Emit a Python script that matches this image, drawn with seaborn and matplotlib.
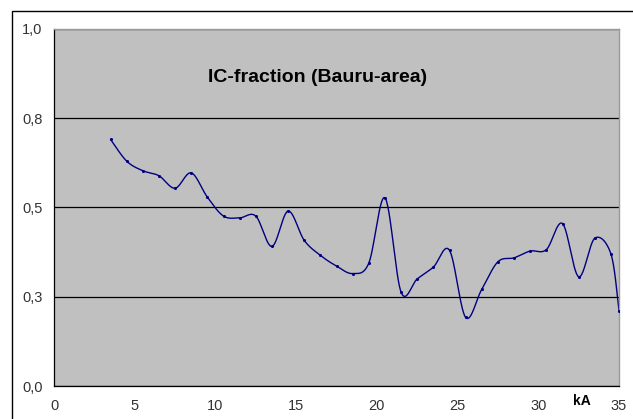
import numpy as np
import seaborn as sns
import matplotlib.pyplot as plt
from matplotlib.patches import Rectangle

# 数据：kA 与 IC-fraction
ka = [3.5, 4.5, 5.5, 6.5, 7.5, 8.5, 9.5, 10.5, 11.5, 12.5, 13.5, 14.5, 15.5,
      16.5, 17.5, 18.5, 19.5, 20.5, 21.5, 22.5, 23.5, 24.5, 25.5, 26.5, 27.5,
      28.5, 29.5, 30.5, 31.5, 32.5, 33.5, 34.5, 35.0]
ic_fraction = [0.691, 0.630, 0.603, 0.589, 0.554, 0.597, 0.529, 0.476, 0.471,
               0.476, 0.391, 0.490, 0.408, 0.366, 0.336, 0.315, 0.344, 0.527,
               0.263, 0.300, 0.333, 0.380, 0.192, 0.271, 0.348, 0.359, 0.378,
               0.382, 0.455, 0.306, 0.414, 0.370, 0.211]

x_ticks = [0, 5, 10, 15, 20, 25, 30, 35]
y_ticks = [0.0, 0.25, 0.5, 0.75, 1.0]
y_tick_labels = ['0,0', '0,3', '0,5', '0,8', '1,0']
title = 'IC-fraction (Bauru-area)'
x_label = 'kA'


# Excel 风格的平滑线（Bezier，张力 1/6）
def smooth_line(xs, ys, n=30):
    p = np.column_stack([xs, ys])
    out = []
    for i in range(len(p) - 1):
        p0 = p[i - 1] if i > 0 else p[i]
        p1, p2 = p[i], p[i + 1]
        p3 = p[i + 2] if i + 2 < len(p) else p[i + 1]
        b1 = p1 + (p2 - p0) / 6
        b2 = p2 - (p3 - p1) / 6
        t = np.linspace(0, 1, n)[:, None]
        seg = ((1 - t) ** 3) * p1 + 3 * ((1 - t) ** 2) * t * b1 \
            + 3 * (1 - t) * t ** 2 * b2 + t ** 3 * p2
        out.append(seg if i == 0 else seg[1:])
    return np.vstack(out)


sns.set_style('white')
plt.rcParams['font.family'] = ['Liberation Sans', 'DejaVu Sans']

W, H = 633, 419
fig = plt.figure(figsize=(W / 100, H / 100), dpi=100)
ax = fig.add_axes([54 / W, (H - 386) / H, (619 - 54) / W, (386 - 29) / H])
ax.set_facecolor('#c0c0c0')

curve = smooth_line(ka, ic_fraction)
sns.lineplot(x=curve[:, 0], y=curve[:, 1], sort=False, color='#000080',
             linewidth=1.0, ax=ax, estimator=None)
sns.scatterplot(x=ka, y=ic_fraction, color='#000080', s=5, linewidth=0, ax=ax,
                zorder=3)

ax.set_xlim(0, 35)
ax.set_ylim(0, 1.0)
ax.set_xticks(x_ticks)
ax.set_yticks(y_ticks)
ax.set_yticklabels(y_tick_labels)
ax.tick_params(axis='both', labelsize=10.5, colors='black', length=4.3,
               width=0.8, direction='out')
ax.tick_params(axis='y', pad=4)
ax.tick_params(axis='x', pad=5)
for lab in ax.get_xticklabels() + ax.get_yticklabels():
    lab.set_color('#333333')

ax.grid(axis='y', color='black', linewidth=0.9)
ax.grid(axis='x', visible=False)
ax.set_axisbelow(True)

for side in ['left', 'bottom']:
    ax.spines[side].set_color('black')
    ax.spines[side].set_linewidth(0.9)
for side in ['top', 'right']:
    ax.spines[side].set_color('#9a9a9a')
    ax.spines[side].set_linewidth(1.0)

ax.text(16.3, 0.863, title, ha='center', va='center', fontsize=14,
        fontweight='bold', color='black')
fig.text(582 / W, 1 - 401 / H, x_label, ha='center', va='center', fontsize=10,
         fontweight='bold', color='black')

# 图表外框
frame = Rectangle((12 / W, -0.1), 1.0, (H - 11) / H + 0.1, transform=fig.transFigure,
                  fill=False, edgecolor='black', linewidth=1.0, clip_on=False)
fig.patches.append(frame)

fig.savefig('out.png', dpi=100)
